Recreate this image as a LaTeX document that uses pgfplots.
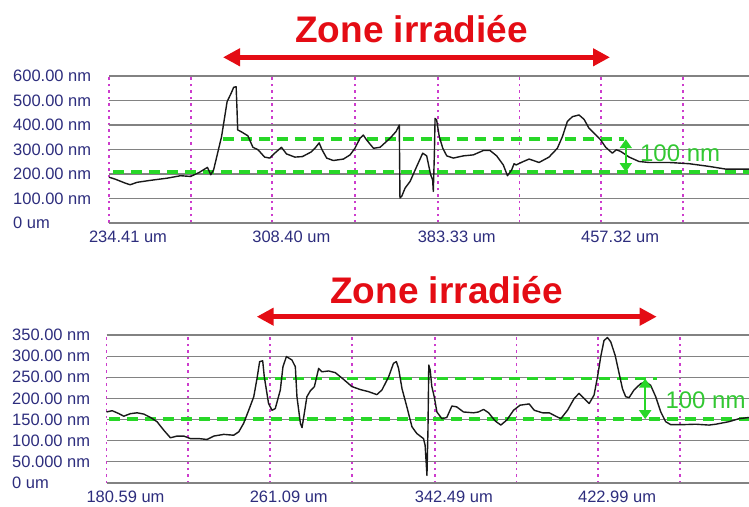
\documentclass[border=0pt]{standalone}
\usepackage{pgfplots}
\pgfplotsset{compat=1.18}
\usepackage{pgfplotstable}
\usepackage{fontspec}
\setmainfont{Liberation Sans}
\usetikzlibrary{arrows.meta}
\definecolor{lblue}{RGB}{45,45,125}
\definecolor{gridgray}{RGB}{130,130,130}
\definecolor{vmag}{RGB}{205,60,205}
\definecolor{dgreen}{RGB}{40,215,40}
\definecolor{tgreen}{RGB}{50,200,50}
\definecolor{zred}{RGB}{228,12,20}

\pgfplotstableread{
x y
234.41 187
237.2 179
241.7 163
244.0 156
247.1 166
253.1 174
260.8 183
266.8 193
271.4 190
275.2 206
279.0 227
280.5 197
281.8 217
283.6 285
285.4 353
286.6 421
287.9 495
289.7 529
290.9 554
292.0 556
292.4 461
292.7 380
294.2 373
297.3 356
299.6 309
301.9 299
304.9 269
307.2 265
309.5 285
312.5 309
314.8 282
318.6 269
322.0 271
326.0 290
327.7 305
329.6 327
330.9 299
333.0 265
336.0 255
340.6 261
343.6 278
345.8 305
348.1 346
349.6 359
351.1 339
354.2 305
357.2 309
361.7 346
364.4 373
365.9 400
366.2 102
367.0 109
368.5 142
370.8 170
373.8 231
376.5 285
378.3 274
380.1 197
381.0 176
381.3 129
381.8 285
382.1 427
382.8 421
384.0 353
385.6 305
387.4 274
390.4 265
394.9 274
399.4 278
404.0 296
407.0 296
410.0 274
413.0 237
414.9 193
416.8 217
417.9 242
418.8 237
422.1 251
424.7 261
429.2 247
433.7 269
437.5 305
439.8 353
442.0 414
444.3 434
447.3 441
449.6 423
451.8 387
454.9 360
457.1 339
459.4 309
462.4 285
464.2 299
466.2 292
470.0 269
474.5 251
479.0 247
488.1 247
497.2 242
506.2 231
513.8 220
524.3 220
}\topdata

\pgfplotstableread{
x y
180.6 168
183.4 171
186.7 164
189.1 158
192.4 164
195.7 166
199.0 163
202.3 155
205.5 145
208.8 125
212.1 107
215.4 111
218.7 111
222.0 105
226.1 105
230.2 103
233.5 111
238.4 115
243.3 113
245.8 121
248.2 141
250.7 172
253.2 204
254.8 247
256.1 287
257.6 289
258.4 251
260.5 188
262.2 172
263.8 176
266.3 220
267.6 275
269.3 299
272.0 291
273.7 275
274.5 204
276.2 141
277.0 131
278.1 164
279.4 204
281.1 218
283.1 228
285.2 271
286.8 263
290.1 265
293.4 261
297.5 245
301.6 228
305.7 221
309.8 216
313.9 209
316.4 220
319.7 251
322.1 283
323.5 287
324.6 271
326.3 223
328.7 180
331.2 133
333.6 117
336.9 105
337.7 89
338.6 18
339.1 125
339.5 279
340.2 267
341.0 228
342.2 204
343.5 168
346.0 152
348.4 155
350.9 182
353.3 180
356.6 168
361.6 166
364.0 168
366.5 174
369.0 166
372.2 147
375.0 137
378.0 149
381.3 172
384.5 184
389.0 187
391.5 172
395.6 166
398.9 166
401.3 160
404.6 152
407.9 172
411.2 200
413.6 212
416.1 200
418.6 188
421.0 208
422.7 251
424.3 299
425.9 337
427.6 344
429.2 334
431.4 302
433.0 267
435.0 223
436.6 204
438.3 202
440.7 220
444.0 235
446.5 239
448.9 231
451.4 204
453.9 168
456.3 145
458.8 138
464.5 138
471.1 139
477.7 137
481.0 139
487.5 145
492.4 152
497.4 155
}\botdata

\pgfplotsset{prof/.style={
  scale only axis, clip=false, anchor=south west,
  axis line style={draw=none}, tick style={draw=none}, major tick length=0pt,
  xmajorgrids, ymajorgrids,
  major x grid style={vmag, line width=1.8pt, dash pattern=on 2.5pt off 4pt},
  major y grid style={gridgray, line width=1.1pt},
  ticklabel style={font=\fontsize{16.5}{18}\selectfont, text=lblue, inner sep=0pt},
  xticklabel style={anchor=north, yshift=-8pt, xshift=19pt},
  yticklabel style={anchor=west},
}}

\begin{document}
\begin{tikzpicture}
\useasboundingbox (0,0) rectangle (749pt,506pt);

% top profile
\begin{axis}[prof,
  at={(109pt,283pt)}, width=640pt, height=147pt,
  xmin=234.41, xmax=524.3, ymin=0, ymax=600,
  xtick={234.41,271.405,308.40,345.865,383.33,420.325,457.32,494.3},
  xticklabels={234.41 um,,308.40 um,,383.33 um,,457.32 um,},
  ytick={0,100,200,300,400,500,600},
  yticklabels={0 um,100.00 nm,200.00 nm,300.00 nm,400.00 nm,500.00 nm,600.00 nm},
  yticklabel style={xshift=-96pt},
]
\addplot[dgreen, line width=3.8pt, dash pattern=on 11pt off 7pt] coordinates {(236.4,208) (524.3,208)};
\addplot[dgreen, line width=3.8pt, dash pattern=on 11pt off 7pt] coordinates {(285.9,342) (467.7,342)};
\addplot[black!90, line width=1.4pt, line join=round] table[x=x,y=y] {\topdata};
\draw[dgreen, line width=2pt, {Triangle[length=9pt,width=12pt]}-{Triangle[length=9pt,width=12pt]}] (axis cs:468.5,208) -- (axis cs:468.5,342);
\node[anchor=base, text=tgreen, font=\fontsize{24}{26}\selectfont, inner sep=0pt] at (axis cs:493.1,250) {100 nm};
\end{axis}

% bottom profile
\begin{axis}[prof,
  at={(106.5pt,23pt)}, width=642.5pt, height=148pt,
  xmin=180.59, xmax=497.4, ymin=0, ymax=350,
  xtick={180.59,220.84,261.09,301.79,342.49,382.74,422.99,463.24},
  xticklabels={180.59 um,,261.09 um,,342.49 um,,422.99 um,},
  ytick={0,50,100,150,200,250,300,350},
  yticklabels={0 um,50.000 nm,100.00 nm,150.00 nm,200.00 nm,250.00 nm,300.00 nm,350.00 nm},
  yticklabel style={xshift=-94.5pt},
]
\addplot[dgreen, line width=3.8pt, dash pattern=on 11pt off 7pt] coordinates {(181.7,151) (497.4,151)};
\addplot[dgreen, line width=3.8pt, dash pattern=on 11pt off 7pt] coordinates {(254.8,247) (452.2,247)};
\addplot[black!90, line width=1.4pt, line join=round] table[x=x,y=y] {\botdata};
\draw[dgreen, line width=2pt, {Triangle[length=9pt,width=12pt]}-{Triangle[length=9pt,width=12pt]}] (axis cs:446.2,151) -- (axis cs:446.2,247);
\node[anchor=base, text=tgreen, font=\fontsize{24}{26}\selectfont, inner sep=0pt] at (axis cs:475.97,176.6) {100 nm};
\end{axis}

% titles and red arrows
\node[anchor=base, text=zred, font=\bfseries\fontsize{37}{40}\selectfont, inner sep=0pt] at (411.5pt,463pt) {Zone irradiée};
\draw[zred, line width=5pt, {Triangle[length=17pt,width=17pt]}-{Triangle[length=17pt,width=17pt]}] (223pt,448.7pt) -- (610pt,448.7pt);
\node[anchor=base, text=zred, font=\bfseries\fontsize{37}{40}\selectfont, inner sep=0pt] at (446.5pt,202.7pt) {Zone irradiée};
\draw[zred, line width=5pt, {Triangle[length=17pt,width=17pt]}-{Triangle[length=17pt,width=17pt]}] (256.7pt,189.3pt) -- (656.7pt,189.3pt);
\end{tikzpicture}
\end{document}
